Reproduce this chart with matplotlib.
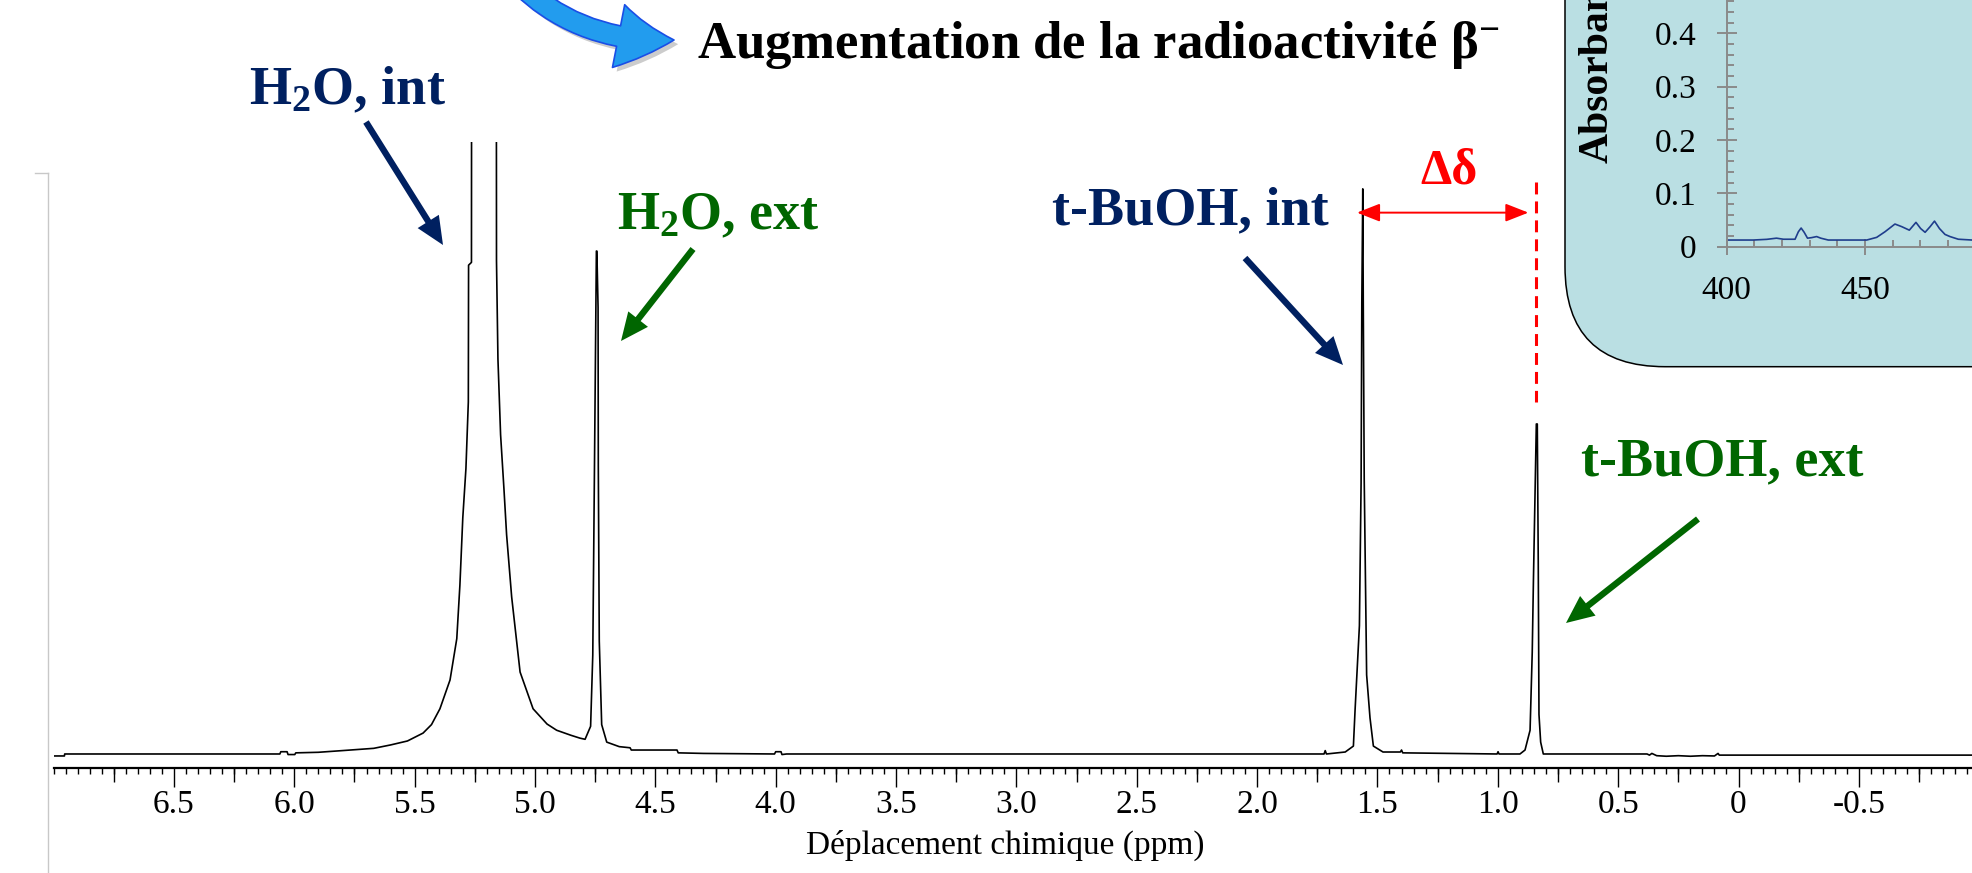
import numpy as np
import matplotlib
matplotlib.use('Agg')
import matplotlib.pyplot as plt
from matplotlib.patches import FancyArrowPatch, FancyBboxPatch
from matplotlib.lines import Line2D
from matplotlib.ticker import MultipleLocator, FixedLocator, NullLocator
import matplotlib.patheffects as pe

plt.rcParams['font.family'] = ['Liberation Serif', 'DejaVu Serif']
plt.rcParams['mathtext.fontset'] = 'custom'
plt.rcParams['mathtext.rm'] = 'Liberation Serif:bold'
plt.rcParams['mathtext.it'] = 'Liberation Serif:bold:italic'
plt.rcParams['mathtext.bf'] = 'Liberation Serif:bold'

# Spectre RMN 1H : deplacement (ppm) et intensite (t-BuOH int = 100)
ppm = [7.000, 6.955, 6.954, 6.060, 6.056, 6.030, 6.026, 5.998, 5.994, 5.900,
       5.800, 5.670, 5.600, 5.530, 5.465, 5.430, 5.395, 5.353, 5.325, 5.312,
       5.300, 5.287, 5.277, 5.276, 5.264, 5.263, 5.161, 5.160, 5.154, 5.143,
       5.129, 5.118, 5.097, 5.062, 5.008, 4.950, 4.910, 4.850, 4.813, 4.792,
       4.769, 4.760, 4.753, 4.745, 4.743, 4.738, 4.737, 4.733, 4.723, 4.702,
       4.650, 4.605, 4.600, 4.410, 4.405, 4.300, 4.005, 4.000, 3.978, 3.974,
       3.955, 1.722, 1.717, 1.712, 1.634, 1.600, 1.593, 1.575, 1.568, 1.565,
       1.561, 1.559, 1.555, 1.545, 1.531, 1.517, 1.477, 1.405, 1.400, 1.395,
       1.003, 0.999, 0.995, 0.908, 0.887, 0.866, 0.857, 0.852, 0.840, 0.836,
       0.832, 0.829, 0.822, 0.811, 0.380, 0.370, 0.360, 0.340, 0.300, 0.250,
       0.200, 0.150, 0.100, 0.085, 0.080, -0.970]
intensite = [-0.35, -0.35, 0.0, 0.0, 0.4, 0.4, -0.1, -0.1, 0.2, 0.3,
             0.6, 1.0, 1.6, 2.3, 3.7, 5.2, 8.0, 13.1, 20.4, 29.9,
             41.8, 50.5, 62.3, 86.5, 87.0, 150.0, 150.0, 87.3, 69.9, 56.5,
             46.9, 38.8, 27.8, 14.5, 8.0, 5.3, 4.2, 3.3, 2.8, 2.6,
             4.9, 17.5, 50.5, 89.0, 89.0, 79.0, 51.0, 20.0, 5.2, 2.1,
             1.3, 1.1, 0.7, 0.7, 0.2, 0.1, 0.0, 0.4, 0.4, -0.1,
             0.0, 0.0, 0.6, 0.0, 0.35, 1.4, 7.8, 22.7, 48.0, 80.0,
             100.0, 80.0, 48.5, 14.0, 6.4, 1.4, 0.35, 0.35, 0.7, 0.2,
             0.0, 0.4, 0.0, 0.0, 0.7, 4.2, 18.0, 30.8, 58.4, 58.4,
             34.0, 7.0, 2.1, 0.0, 0.0, -0.2, 0.1, -0.3, -0.4, -0.3,
             -0.4, -0.3, -0.35, 0.1, -0.2, -0.2]

pic_tbuoh_int = 1.561
pic_tbuoh_ext = 0.842

ticks_ppm = [6.5, 6.0, 5.5, 5.0, 4.5, 4.0, 3.5, 3.0, 2.5, 2.0, 1.5, 1.0, 0.5, 0.0, -0.5]
labels_ppm = ['6.5', '6.0', '5.5', '5.0', '4.5', '4.0', '3.5', '3.0', '2.5', '2.0',
              '1.5', '1.0', '0.5', '0', '-0.5']

# Encart : spectre UV-visible
lambda_nm = [400, 409.6, 414.5, 418, 420.5, 424.7, 425.9, 426.9, 428, 429.2,
             430.7, 432.5, 434, 436.7, 450.6, 454.2, 457.2, 460.8, 463.3, 466,
             468.4, 470.1, 471.7, 473.5, 475.1, 476.9, 478.9, 480.7, 483.7, 488.7, 495]
absorbance = [0.0125, 0.0125, 0.0138, 0.016, 0.014, 0.014, 0.028, 0.035, 0.027, 0.016,
              0.017, 0.019, 0.016, 0.0125, 0.0125, 0.0175, 0.028, 0.0425, 0.0375, 0.031,
              0.0456, 0.034, 0.027, 0.0375, 0.048, 0.034, 0.023, 0.019, 0.014, 0.0125, 0.0125]
ticks_abs = [0, 0.1, 0.2, 0.3, 0.4]
labels_abs = ['0', '0.1', '0.2', '0.3', '0.4']
ticks_nm = [400, 450]

W, H = 1972, 873
navy = '#002060'
vert = '#006600'


def fx(x):
    return x / W


def fy(y):
    return 1 - y / H


fig = plt.figure(figsize=(W / 100, H / 100), dpi=100)

# cadre gris a gauche
fig.add_artist(Line2D([fx(47.5), fx(47.5)], [fy(173), 0], color='#c8c8c8', lw=1))
fig.add_artist(Line2D([fx(35), fx(47.5)], [fy(173), fy(173)], color='#c8c8c8', lw=1))

# spectre RMN
ax = fig.add_axes([fx(53.6), fy(768), 1 - fx(53.6), fy(142) - fy(768)])
ax.set_facecolor('none')
ax.plot(ppm, intensite, color='black', lw=1.2)
ax.set_xlim(7.0, -0.97)
ax.set_ylim(-2.48, 108.3)
for s in ['top', 'right', 'left']:
    ax.spines[s].set_visible(False)
ax.spines['bottom'].set_linewidth(1.6)
ax.set_xticks(ticks_ppm, labels=labels_ppm)
ax.xaxis.set_minor_locator(MultipleLocator(0.05))
ax.tick_params(axis='x', which='major', length=13.7, width=1.0, pad=2, labelsize=24)
ax.tick_params(axis='x', which='minor', length=4.3, width=1.0)
ax.tick_params(axis='y', left=False, labelleft=False)
sec = ax.secondary_xaxis('bottom')
sec.set_xticks(np.arange(-0.75, 7.0, 0.5))
sec.xaxis.set_minor_locator(NullLocator())
sec.tick_params(length=10, width=1.0, labelbottom=False)
sec.spines['bottom'].set_visible(False)
ax.set_xlabel('Déplacement chimique (ppm)', fontsize=24)
ax.xaxis.set_label_coords((1005 - 53.6) / (W - 53.6), -(845 - 768) / (768 - 142))
ax.xaxis.label.set_va('center')

# delta delta
ax.plot([pic_tbuoh_ext, pic_tbuoh_ext], [101.2, 62.3], color='red', lw=2.2, ls=(0, (3.9, 2.3)))
ax.annotate('', xy=(0.873, 95.8), xytext=(1.585, 95.8),
            arrowprops=dict(arrowstyle='<|-|>,head_length=14,head_width=5.5', mutation_scale=1,
                            color='red', lw=1.4, shrinkA=0, shrinkB=0))

# encart UV-visible
box = FancyBboxPatch((15.65, (H - 366.7) / 100), 6, 6, boxstyle='round,pad=0,rounding_size=1.0',
                     transform=fig.dpi_scale_trans, fc='#BADFE3', ec='black', lw=1.1, zorder=2)
fig.add_artist(box)
ax2 = fig.add_axes([fx(1726.7), fy(246.7), 150 * 2.767 / W, 0.6 * 533.3 / H], zorder=3)
ax2.set_facecolor('none')
ax2.plot(lambda_nm, absorbance, color='#1f3d8c', lw=1.2)
ax2.set_xlim(400, 550)
ax2.set_ylim(0, 0.6)
for s in ['top', 'right']:
    ax2.spines[s].set_visible(False)
for s in ['left', 'bottom']:
    ax2.spines[s].set_color('#8a8a8a')
    ax2.spines[s].set_linewidth(1.4)
ax2.xaxis.set_major_locator(FixedLocator(ticks_nm))
ax2.xaxis.set_minor_locator(MultipleLocator(10))
ax2.set_yticks(ticks_abs, labels=labels_abs)
ax2.yaxis.set_minor_locator(MultipleLocator(0.02))
ax2.tick_params(which='both', color='#8a8a8a', width=1.4, labelsize=24)
ax2.tick_params(axis='x', which='major', direction='inout', length=12, pad=14.5)
ax2.tick_params(axis='y', which='major', direction='inout', length=14, pad=15)
ax2.tick_params(which='minor', direction='in', length=5)
fig.text(fx(1598), fy(163), 'Absorbance', rotation=90, ha='center', va='bottom',
         fontsize=30, fontweight='bold', zorder=4)

# etiquettes et fleches
bold = dict(fontweight='bold', ha='center', va='baseline')
fig.text(fx(347), fy(104), r'H$_2$O, int', color=navy, fontsize=39, **bold)
fig.text(fx(718), fy(229), r'H$_2$O, ext', color=vert, fontsize=39, **bold)
fig.text(fx(1190), fy(224), 't-BuOH, int', color=navy, fontsize=39, **bold)
fig.text(fx(1722), fy(475), 't-BuOH, ext', color=vert, fontsize=39, **bold)
fig.text(fx(1449), fy(184), 'Δδ', color='red', fontsize=36, **bold)
fig.text(fx(697), fy(58), r'Augmentation de la radioactivité β$^{-}$', color='black',
         fontsize=38, fontweight='bold', ha='left', va='baseline')

fleches = [((366, 122), (443, 245), navy),
           ((693, 249), (621, 341), vert),
           ((1245, 258), (1343, 365), navy),
           ((1698, 519), (1566, 623), vert)]
for (xa, ya), (xb, yb), c in fleches:
    fig.add_artist(FancyArrowPatch((fx(xa), fy(ya)), (fx(xb), fy(yb)), transform=fig.transFigure,
                                   arrowstyle='simple,head_length=20,head_width=18,tail_width=4.6',
                                   mutation_scale=1, color=c, lw=0, shrinkA=0, shrinkB=0))

bleue = FancyArrowPatch((fx(490), fy(-50)), (fx(674), fy(40)), transform=fig.transFigure,
                        connectionstyle='arc3,rad=0.27',
                        arrowstyle='simple,head_length=40,head_width=46,tail_width=15',
                        mutation_scale=1, fc='#229cee', ec='#1a4ee6', lw=1.2, shrinkA=0, shrinkB=0)
bleue.set_path_effects([pe.SimplePatchShadow(offset=(3, -3), shadow_rgbFace='gray', alpha=0.4),
                        pe.Normal()])
fig.add_artist(bleue)

fig.savefig('out.png', dpi=100)
